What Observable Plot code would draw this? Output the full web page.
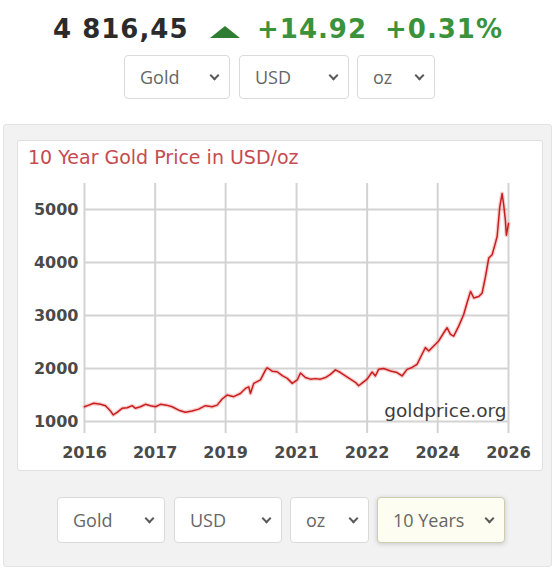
<!DOCTYPE html>
<html>
<head>
<meta charset="utf-8">
<script src="https://cdn.jsdelivr.net/npm/d3@7"></script>
<script src="https://cdn.jsdelivr.net/npm/@observablehq/plot@0.6"></script>
<style>
  html, body { margin: 0; padding: 0; background: #fff; }
  #page { position: relative; width: 556px; height: 569px; overflow: hidden; font-family: "Open Sans", sans-serif; }
  .hdr { position: absolute; top: 14px; font-family: "DejaVu Sans", sans-serif; font-weight: bold; font-size: 26px; line-height: 30px; white-space: nowrap; letter-spacing: 1px; }
  .tri { position: absolute; left: 210px; top: 26px; width: 0; height: 0; border-left: 15px solid transparent; border-right: 15px solid transparent; border-bottom: 12px solid #2e7d32; }
  .panel { position: absolute; left: 3px; top: 124px; width: 549px; height: 443px; box-sizing: border-box; background: #f2f2f2; border: 1px solid #e3e3e3; border-radius: 3px; }
  .box { position: absolute; left: 18px; top: 141px; width: 524px; height: 329px; background: #fff; box-shadow: 0 0 0 1px #e0e0e0; border-radius: 2px; }
  .title { position: absolute; left: 10px; top: 5px; font-family: "DejaVu Sans", sans-serif; font-size: 19px; line-height: 22px; color: #c64b50; white-space: nowrap; }
  .sel { position: absolute; box-sizing: border-box; background: #fff; border: 1px solid #dadada; border-radius: 4px; color: #666; font-size: 18px; white-space: nowrap; }
  .sel .t { position: absolute; left: 15px; top: 0; }
  .chev { position: absolute; width: 5px; height: 5px; border-right: 2px solid #5a5a5a; border-bottom: 2px solid #5a5a5a; transform: rotate(45deg); }
  .sel.hl { background: #fdfdf1; border-color: #cdccae; box-shadow: 0 1px 5px rgba(0,0,0,0.18); }
  #chart { position: absolute; left: 0; top: 29px; }
</style>
</head>
<body>
<div id="page"></div>
<script>
// ---- header values ----
const priceText = "4 816,45";
const changeText = "+14.92";
const changePctText = "+0.31%";
const titleText = "10 Year Gold Price in USD/oz";
const watermark = "goldprice.org";
const topSelects = ["Gold", "USD", "oz"];
const bottomSelects = ["Gold", "USD", "oz", "10 Years"];

// ---- series ----
const dates = [
  "2016-01-01","2016-02-07","2016-03-20","2016-05-18","2016-06-30","2016-08-12","2016-09-04","2016-10-08",
  "2016-11-20","2017-01-03","2017-02-15","2017-03-15","2017-04-27","2017-06-09","2017-07-22","2017-09-04",
  "2017-10-16","2017-12-07","2018-01-25","2018-03-23","2018-05-19","2018-07-16","2018-09-11","2018-11-07",
  "2019-01-05","2019-02-17","2019-04-01","2019-05-14","2019-07-09","2019-09-05","2019-10-19","2019-11-16",
  "2019-12-01","2019-12-29","2020-02-25","2020-04-08","2020-04-23","2020-06-05","2020-07-18","2020-08-31",
  "2020-10-13","2020-11-25","2021-01-07","2021-02-04","2021-03-18","2021-05-01","2021-06-13","2021-07-26",
  "2021-09-07","2021-10-20","2021-12-02","2022-01-14","2022-02-26","2022-04-10","2022-05-23","2022-06-20",
  "2022-07-19","2022-09-01","2022-10-14","2022-11-11","2022-12-09","2023-01-22","2023-03-21","2023-05-17",
  "2023-06-29","2023-08-11","2023-09-23","2023-11-05","2023-12-18","2024-01-16","2024-02-14","2024-03-28",
  "2024-05-10","2024-06-22","2024-07-21","2024-08-19","2024-09-16","2024-10-29","2024-12-11","2025-01-09",
  "2025-02-08","2025-03-08","2025-04-20","2025-05-19","2025-06-17","2025-07-15","2025-08-13","2025-09-10",
  "2025-09-25","2025-10-18","2025-11-07","2025-11-21","2025-12-05","2025-12-14","2026-01-01"
];
const prices = [
  1280,1310,1345,1325,1300,1200,1125,1175,
  1250,1260,1300,1250,1280,1325,1300,1280,
  1325,1310,1280,1215,1175,1200,1235,1300,
  1280,1310,1425,1500,1470,1530,1625,1655,
  1530,1720,1785,1970,2015,1950,1940,1865,
  1815,1720,1785,1915,1830,1800,1810,1800,
  1830,1890,1975,1925,1860,1800,1740,1675,
  1725,1800,1935,1860,1985,2000,1955,1925,
  1860,1985,2020,2080,2270,2395,2330,2425,
  2520,2675,2770,2645,2610,2800,3020,3240,
  3455,3330,3360,3425,3740,4085,4145,4365,
  4490,5050,5300,5080,4800,4515,4735
];

// ---- axes ----
const yTicks = [1000, 2000, 3000, 4000, 5000];
const xTickDates = ["2016-01-01","2017-09-01","2019-05-01","2021-01-01","2022-09-01","2024-05-01","2026-01-01"];
const xTickLabels = ["2016","2017","2019","2021","2022","2024","2026"];

const page = document.getElementById("page");
function el(cls, style, text) {
  const d = document.createElement("div");
  d.className = cls;
  if (style) Object.assign(d.style, style);
  if (text != null) d.textContent = text;
  return d;
}

// header
page.appendChild(el("hdr", {left: "53px", color: "#2b2b2b"}, priceText));
page.appendChild(el("tri"));
page.appendChild(el("hdr", {left: "257px", color: "#3a923a"}, changeText));
page.appendChild(el("hdr", {left: "385px", color: "#3a923a"}, changePctText));

function addSelect(label, left, top, width, height, hl) {
  const s = el("sel" + (hl ? " hl" : ""), {left: left + "px", top: top + "px", width: width + "px", height: height + "px"});
  const t = el("t", {lineHeight: (height - 2) + "px"}, label);
  s.appendChild(t);
  const c = el("chev", {right: "11px", top: ((height - 2) / 2 - 5) + "px"});
  s.appendChild(c);
  page.appendChild(s);
}
const topGeom = [[124, 106], [239, 110], [357, 78]];
topSelects.forEach((l, i) => addSelect(l, topGeom[i][0], 55, topGeom[i][1], 44, false));

page.appendChild(el("panel"));
const box = el("box");
page.appendChild(box);
box.appendChild(el("title", null, titleText));

const botGeom = [[57, 108], [174, 108], [290, 79], [377, 128]];
bottomSelects.forEach((l, i) => addSelect(l, botGeom[i][0], 497, botGeom[i][1], 46, i === 3));

// chart
const data = dates.map((d, i) => ({date: new Date(d), price: prices[i]}));
const xt = xTickDates.map(d => new Date(d));
const labelOf = new Map(xt.map((d, i) => [+d, xTickLabels[i]]));

const chart = Plot.plot({
  width: 524,
  height: 300,
  marginLeft: 66,
  marginRight: 34,
  marginTop: 13,
  marginBottom: 37,
  style: {background: "transparent", fontFamily: "DejaVu Sans, sans-serif", overflow: "visible"},
  x: {type: "utc", domain: [new Date("2016-01-01"), new Date("2026-01-01")]},
  y: {domain: [775, 5490]},
  marks: [
    Plot.gridX(xt, {stroke: "#d3d3d3", strokeOpacity: 1, strokeWidth: 2}),
    Plot.gridY(yTicks, {stroke: "#d3d3d3", strokeOpacity: 1, strokeWidth: 2}),
    Plot.axisY(yTicks, {tickSize: 0, tickPadding: 6, fontWeight: "bold", fontSize: 16, fill: "#4a4a4a", label: null, tickFormat: d => String(d)}),
    Plot.axisX(xt, {tickSize: 0, tickPadding: 13, fontWeight: "bold", fontSize: 16, fill: "#4a4a4a", label: null, tickFormat: d => labelOf.get(+d)}),
    Plot.text([watermark], {text: d => d, frameAnchor: "bottom-right", textAnchor: "end", lineAnchor: "middle", dx: -2, dy: -22, fontSize: 18.5, fill: "#3d3d3d"}),
    Plot.line(data, {x: "date", y: "price", stroke: "#ee8888", strokeWidth: 4, strokeOpacity: 0.4}),
    Plot.line(data, {x: "date", y: "price", stroke: "#c81e1e", strokeWidth: 1.5})
  ]
});
chart.id = "chart";
box.appendChild(chart);
</script>
</body>
</html>
